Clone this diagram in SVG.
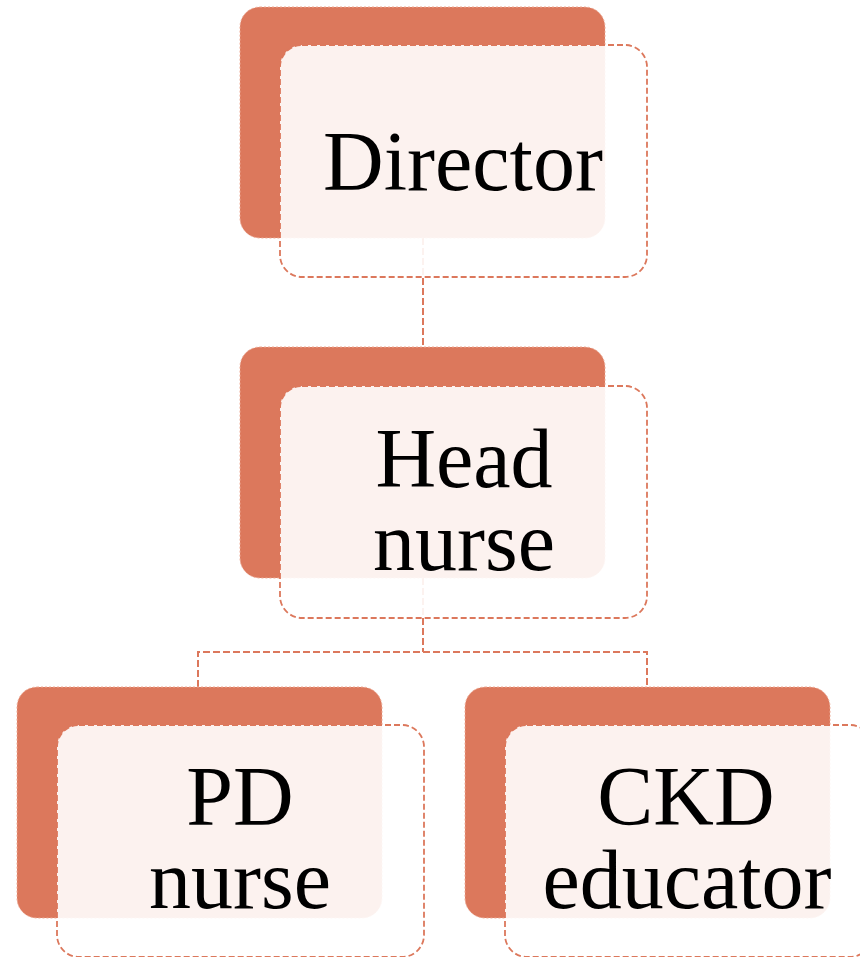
<svg xmlns="http://www.w3.org/2000/svg" width="860" height="957" viewBox="0 0 860 957">
<style>
.back{fill:#DC785C;stroke:#EDAA95;stroke-width:1;stroke-dasharray:2 2}
.front{fill:#FFFFFF;fill-opacity:0.9;stroke:#DC785C;stroke-width:1.8;stroke-dasharray:6 3}
.conn{fill:none;stroke:#DC785C;stroke-width:2;stroke-dasharray:7 3}
.lbl{font-family:"Liberation Serif","DejaVu Serif",serif;font-size:84px;fill:#000;text-anchor:middle}
</style>
<rect width="860" height="957" fill="#FFFFFF"/>
<g id="connectors">
<path class="conn" d="M423,238 V347"/>
<path class="conn" d="M423,578 V652 M198,687 V652 H647 V687"/>
</g>
<g id="director">
<rect class="back" x="240" y="7" width="365" height="231" rx="20"/>
<rect class="front" x="280" y="45" width="367" height="232" rx="22"/>
<text class="lbl" x="463" y="190">Director</text>
</g>
<g id="head-nurse">
<rect class="back" x="240" y="347" width="365" height="231" rx="20"/>
<rect class="front" x="280" y="386" width="367" height="232" rx="22"/>
<text class="lbl" x="464" y="487">Head</text>
<text class="lbl" x="464" y="570">nurse</text>
</g>
<g id="pd-nurse">
<rect class="back" x="17" y="687" width="365" height="231" rx="20"/>
<rect class="front" x="57" y="725" width="367" height="232" rx="22"/>
<text class="lbl" x="240" y="825">PD</text>
<text class="lbl" x="240" y="908">nurse</text>
</g>
<g id="ckd-educator">
<rect class="back" x="465" y="687" width="365" height="231" rx="20"/>
<rect class="front" x="505" y="725" width="367" height="232" rx="22"/>
<text class="lbl" x="686" y="825">CKD</text>
<text class="lbl" x="687" y="908">educator</text>
</g>
</svg>
